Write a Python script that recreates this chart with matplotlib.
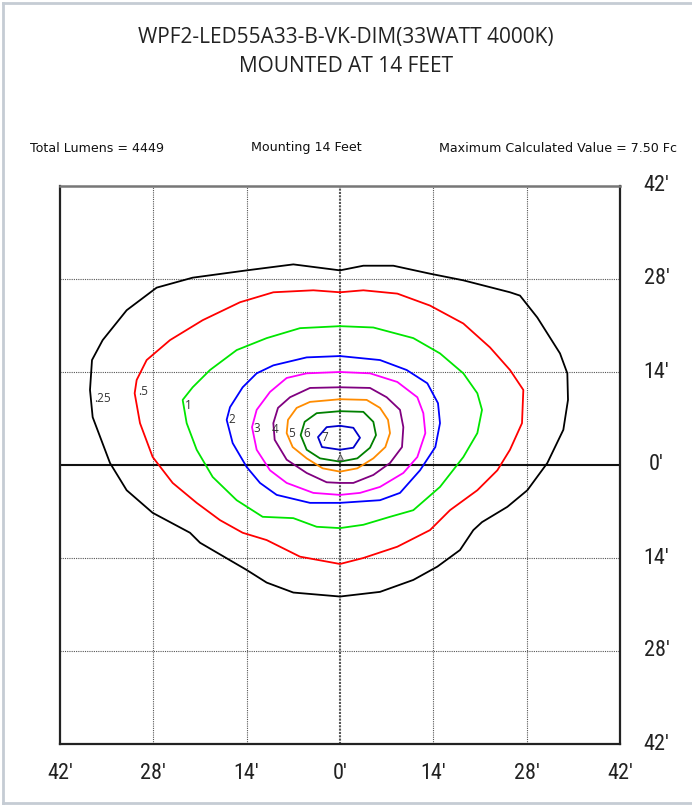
import matplotlib
matplotlib.use("Agg")
import matplotlib.pyplot as plt
from matplotlib.lines import Line2D
from matplotlib import font_manager
import numpy as np

# ---- data (feet) ----
levels = [".25", ".5", "1", "2", "3", "4", "5", "6", "7"]
colors = ["#000000", "#ff0000", "#00e600", "#0000ff", "#ff00ff", "#800080", "#ff8c00", "#008000", "#0000cc"]

c025_x = [0, -7.0, -14.0, -22.1, -27.5, -32.0, -35.6, -37.2, -37.5, -37.1, -34.5, -32.0, -28.1, -22.5, -21.0, -14.0, -11.0, -7.0, 0, 6.0, 11.0, 14.6, 18.0, 20.0, 21.3, 25.1, 28.1, 31.1, 33.5, 34.2, 34.1, 33.0, 29.6, 27.0, 25.5, 18.5, 13.5, 8.0, 3.5]
c025_y = [29.3, 30.2, 29.3, 28.2, 26.7, 23.3, 18.8, 15.8, 11.3, 7.2, 0.3, -3.8, -7.2, -10.2, -11.7, -15.8, -17.7, -19.2, -19.8, -19.1, -17.3, -15.3, -12.8, -9.8, -8.6, -6.3, -3.8, 0.3, 5.3, 9.8, 13.8, 16.8, 22.2, 25.5, 26.0, 27.8, 28.8, 30.0, 30.0]

c05_x = [0, -4.0, -10.0, -15.0, -20.6, -25.5, -29.0, -30.5, -30.8, -30.0, -28.1, -25.1, -21.5, -18.0, -14.6, -11.0, -6.0, 0, 3.5, 8.6, 13.5, 16.5, 20.6, 23.6, 25.5, 27.3, 27.5, 25.5, 22.5, 18.5, 13.5, 8.6, 3.5]
c05_y = [26.0, 26.3, 26.0, 24.5, 21.8, 18.8, 15.8, 12.8, 10.8, 6.3, 1.2, -2.7, -5.7, -8.3, -10.2, -11.3, -13.8, -14.9, -14.0, -12.3, -9.8, -6.8, -3.8, -0.8, 2.3, 6.3, 11.3, 14.3, 17.7, 21.3, 24.0, 25.8, 26.3]

c1_x = [0, -6.0, -11.0, -15.5, -19.5, -22.1, -23.6, -23.0, -21.5, -19.1, -15.5, -11.6, -7.0, -3.5, 0, 3.5, 7.5, 11.0, 15.0, 18.5, 20.6, 21.3, 20.6, 18.5, 15.0, 11.0, 5.0]
c1_y = [20.9, 20.6, 19.1, 17.3, 14.3, 11.7, 9.8, 6.3, 2.3, -1.8, -5.3, -7.8, -8.0, -9.3, -9.5, -9.0, -7.8, -6.8, -3.3, 1.2, 4.8, 8.3, 10.8, 13.8, 16.8, 19.1, 20.7]

c2_x = [0, -5.0, -10.0, -12.5, -14.6, -16.5, -17.0, -16.1, -14.0, -12.0, -9.5, -4.5, 0, 6.0, 9.0, 12.0, 14.3, 15.0, 14.7, 13.1, 10.0, 6.0]
c2_y = [16.4, 16.2, 15.0, 13.8, 11.7, 8.7, 6.8, 3.3, -0.3, -2.7, -4.5, -5.7, -5.7, -5.3, -4.2, -0.8, 2.7, 6.3, 9.3, 12.3, 14.3, 15.8]

c3_x = [0, -5.0, -8.0, -10.5, -12.5, -13.2, -12.5, -10.5, -8.0, -4.0, 0, 3.0, 6.0, 9.5, 11.6, 12.8, 12.5, 11.6, 8.6, 4.5]
c3_y = [14.0, 13.8, 13.1, 11.0, 8.3, 5.7, 2.3, -0.8, -2.7, -4.2, -4.5, -4.2, -3.3, -1.2, 1.2, 4.8, 7.8, 10.2, 12.5, 13.8]

c4_x = [0, -4.5, -7.5, -9.3, -10.0, -9.8, -8.0, -5.0, -2.0, 0, 2.0, 5.0, 7.5, 9.3, 9.5, 9.0, 7.0, 4.5]
c4_y = [11.7, 11.6, 10.2, 8.6, 6.3, 3.8, 0.8, -1.2, -2.6, -2.7, -2.7, -1.5, 0.3, 2.7, 5.7, 8.3, 10.2, 11.6]

c5_x = [0, -4.5, -6.5, -7.8, -8.0, -7.1, -5.0, -2.6, 0, 2.6, 5.0, 6.8, 7.5, 7.2, 6.0, 4.0]
c5_y = [9.9, 9.5, 8.6, 6.8, 4.8, 2.7, 1.0, -0.5, -1.0, -0.5, 1.0, 2.7, 4.8, 6.8, 8.6, 9.8]

c6_x = [0, -3.5, -5.3, -5.9, -5.0, -3.0, 0, 2.6, 4.5, 5.4, 5.0, 3.5]
c6_y = [8.1, 7.8, 6.5, 4.5, 2.3, 1.0, 0.5, 1.0, 2.6, 4.5, 6.5, 8.0]

c7_x = [0, -2.0, -3.3, -2.7, 0, 2.0, 3.0, 2.0]
c7_y = [5.9, 5.7, 4.2, 2.7, 2.3, 2.6, 4.1, 5.6]

label_x = [-36.9, -30.3, -22.7, -16.2, -12.5, -9.8, -7.2, -5.0, -2.3]
label_y = [10.0, 11.0, 8.9, 6.9, 5.5, 5.3, 4.7, 4.7, 4.1]

tick_vals = [-42, -28, -14, 0, 14, 28, 42]
tick_labels = ["42\u2032", "28\u2032", "14\u2032", "0\u2032", "14\u2032", "28\u2032", "42\u2032"]

title1 = "WPF2-LED55A33-B-VK-DIM(33WATT 4000K)"
title2 = "MOUNTED AT 14 FEET"
info_left = "Total Lumens = 4449"
info_mid = "Mounting 14 Feet"
info_right = "Maximum Calculated Value = 7.50 Fc"

contours_x = [c025_x, c05_x, c1_x, c2_x, c3_x, c4_x, c5_x, c6_x, c7_x]
contours_y = [c025_y, c05_y, c1_y, c2_y, c3_y, c4_y, c5_y, c6_y, c7_y]

# ---- fonts ----
installed = {f.name for f in font_manager.fontManager.ttflist}
cond = [f for f in ["Roboto Condensed", "Liberation Sans Narrow", "Open Sans", "DejaVu Sans"] if f in installed]
has_cond = cond[0] in ("Roboto Condensed", "Liberation Sans Narrow")
title_font = ["Open Sans", "DejaVu Sans"]
sans = ["DejaVu Sans"]

# ---- figure ----
W, H = 692, 805
fig = plt.figure(figsize=(W / 100, H / 100), dpi=100)
fig.patch.set_facecolor("white")

ax = fig.add_axes([60 / W, 1 - 744 / H, 560 / W, 558 / H])
ax.set_xlim(-42, 42)
ax.set_ylim(-42, 42)

for v in [-28, -14, 14, 28]:
    ax.axvline(v, color="#555555", lw=0.8, ls=(0, (1, 1)), zorder=1)
    ax.axhline(v, color="#555555", lw=0.8, ls=(0, (1, 1)), zorder=1)
ax.axvline(0, color="#555555", lw=1.5, ls=(0, (1, 0.6)), zorder=1)
ax.axhline(0, color="#111111", lw=1.5, zorder=1)

for cx, cy, col in zip(contours_x, contours_y, colors):
    xs = list(cx) + [cx[0]]
    ys = list(cy) + [cy[0]]
    ax.plot(xs, ys, color=col, lw=1.3, zorder=3, solid_joinstyle="round")

for lx, ly, lab in zip(label_x, label_y, levels):
    ax.text(lx, ly, lab, fontsize=8.5, color="#333333", ha="left" if lab in (".25", ".5") else "center",
            va="center", family=["Open Sans", "DejaVu Sans"], zorder=4)

ax.plot([0], [1.2], marker="^", ms=4, mfc="#bbbbbb", mec="#555555", mew=0.7, zorder=5)

ax.set_xticks([])
ax.set_yticks([])
for side in ["left", "bottom", "right"]:
    ax.spines[side].set_color("#222222")
    ax.spines[side].set_linewidth(1.6)
ax.spines["top"].set_color("#777777")
ax.spines["top"].set_linewidth(1.8)

tick_fs = 16 if has_cond else 14
for v, t in zip(tick_vals, tick_labels):
    ax.text(v, -42 - 4.5, t, ha="center", va="center", fontsize=tick_fs, family=cond, color="#222222")
    ax.text(42 + 5.5, v, t, ha="center", va="center", fontsize=tick_fs, family=cond, color="#222222")

fig.text(346 / W, 1 - 37 / H, title1, ha="center", va="center", fontsize=15, family=title_font, color="#222222")
fig.text(346 / W, 1 - 66 / H, title2, ha="center", va="center", fontsize=15, family=title_font, color="#222222")
fig.text(30 / W, 1 - 148 / H, info_left, ha="left", va="center", fontsize=9.1, family=sans, color="#111111")
fig.text(306 / W, 1 - 148 / H, info_mid, ha="center", va="center", fontsize=9.1, family=sans, color="#111111")
fig.text(677 / W, 1 - 148 / H, info_right, ha="right", va="center", fontsize=9.1, family=sans, color="#111111")

# outer light frame
fr = "#c5ccd4"
fig.add_artist(Line2D([3 / W, 3 / W], [0.5 / H, 1 - 3 / H], color=fr, lw=2, transform=fig.transFigure))
fig.add_artist(Line2D([3 / W, 1], [1 - 3 / H, 1 - 3 / H], color=fr, lw=2, transform=fig.transFigure))
fig.add_artist(Line2D([3 / W, 1], [2 / H, 2 / H], color=fr, lw=2, transform=fig.transFigure))

fig.savefig("out.png", dpi=100)
